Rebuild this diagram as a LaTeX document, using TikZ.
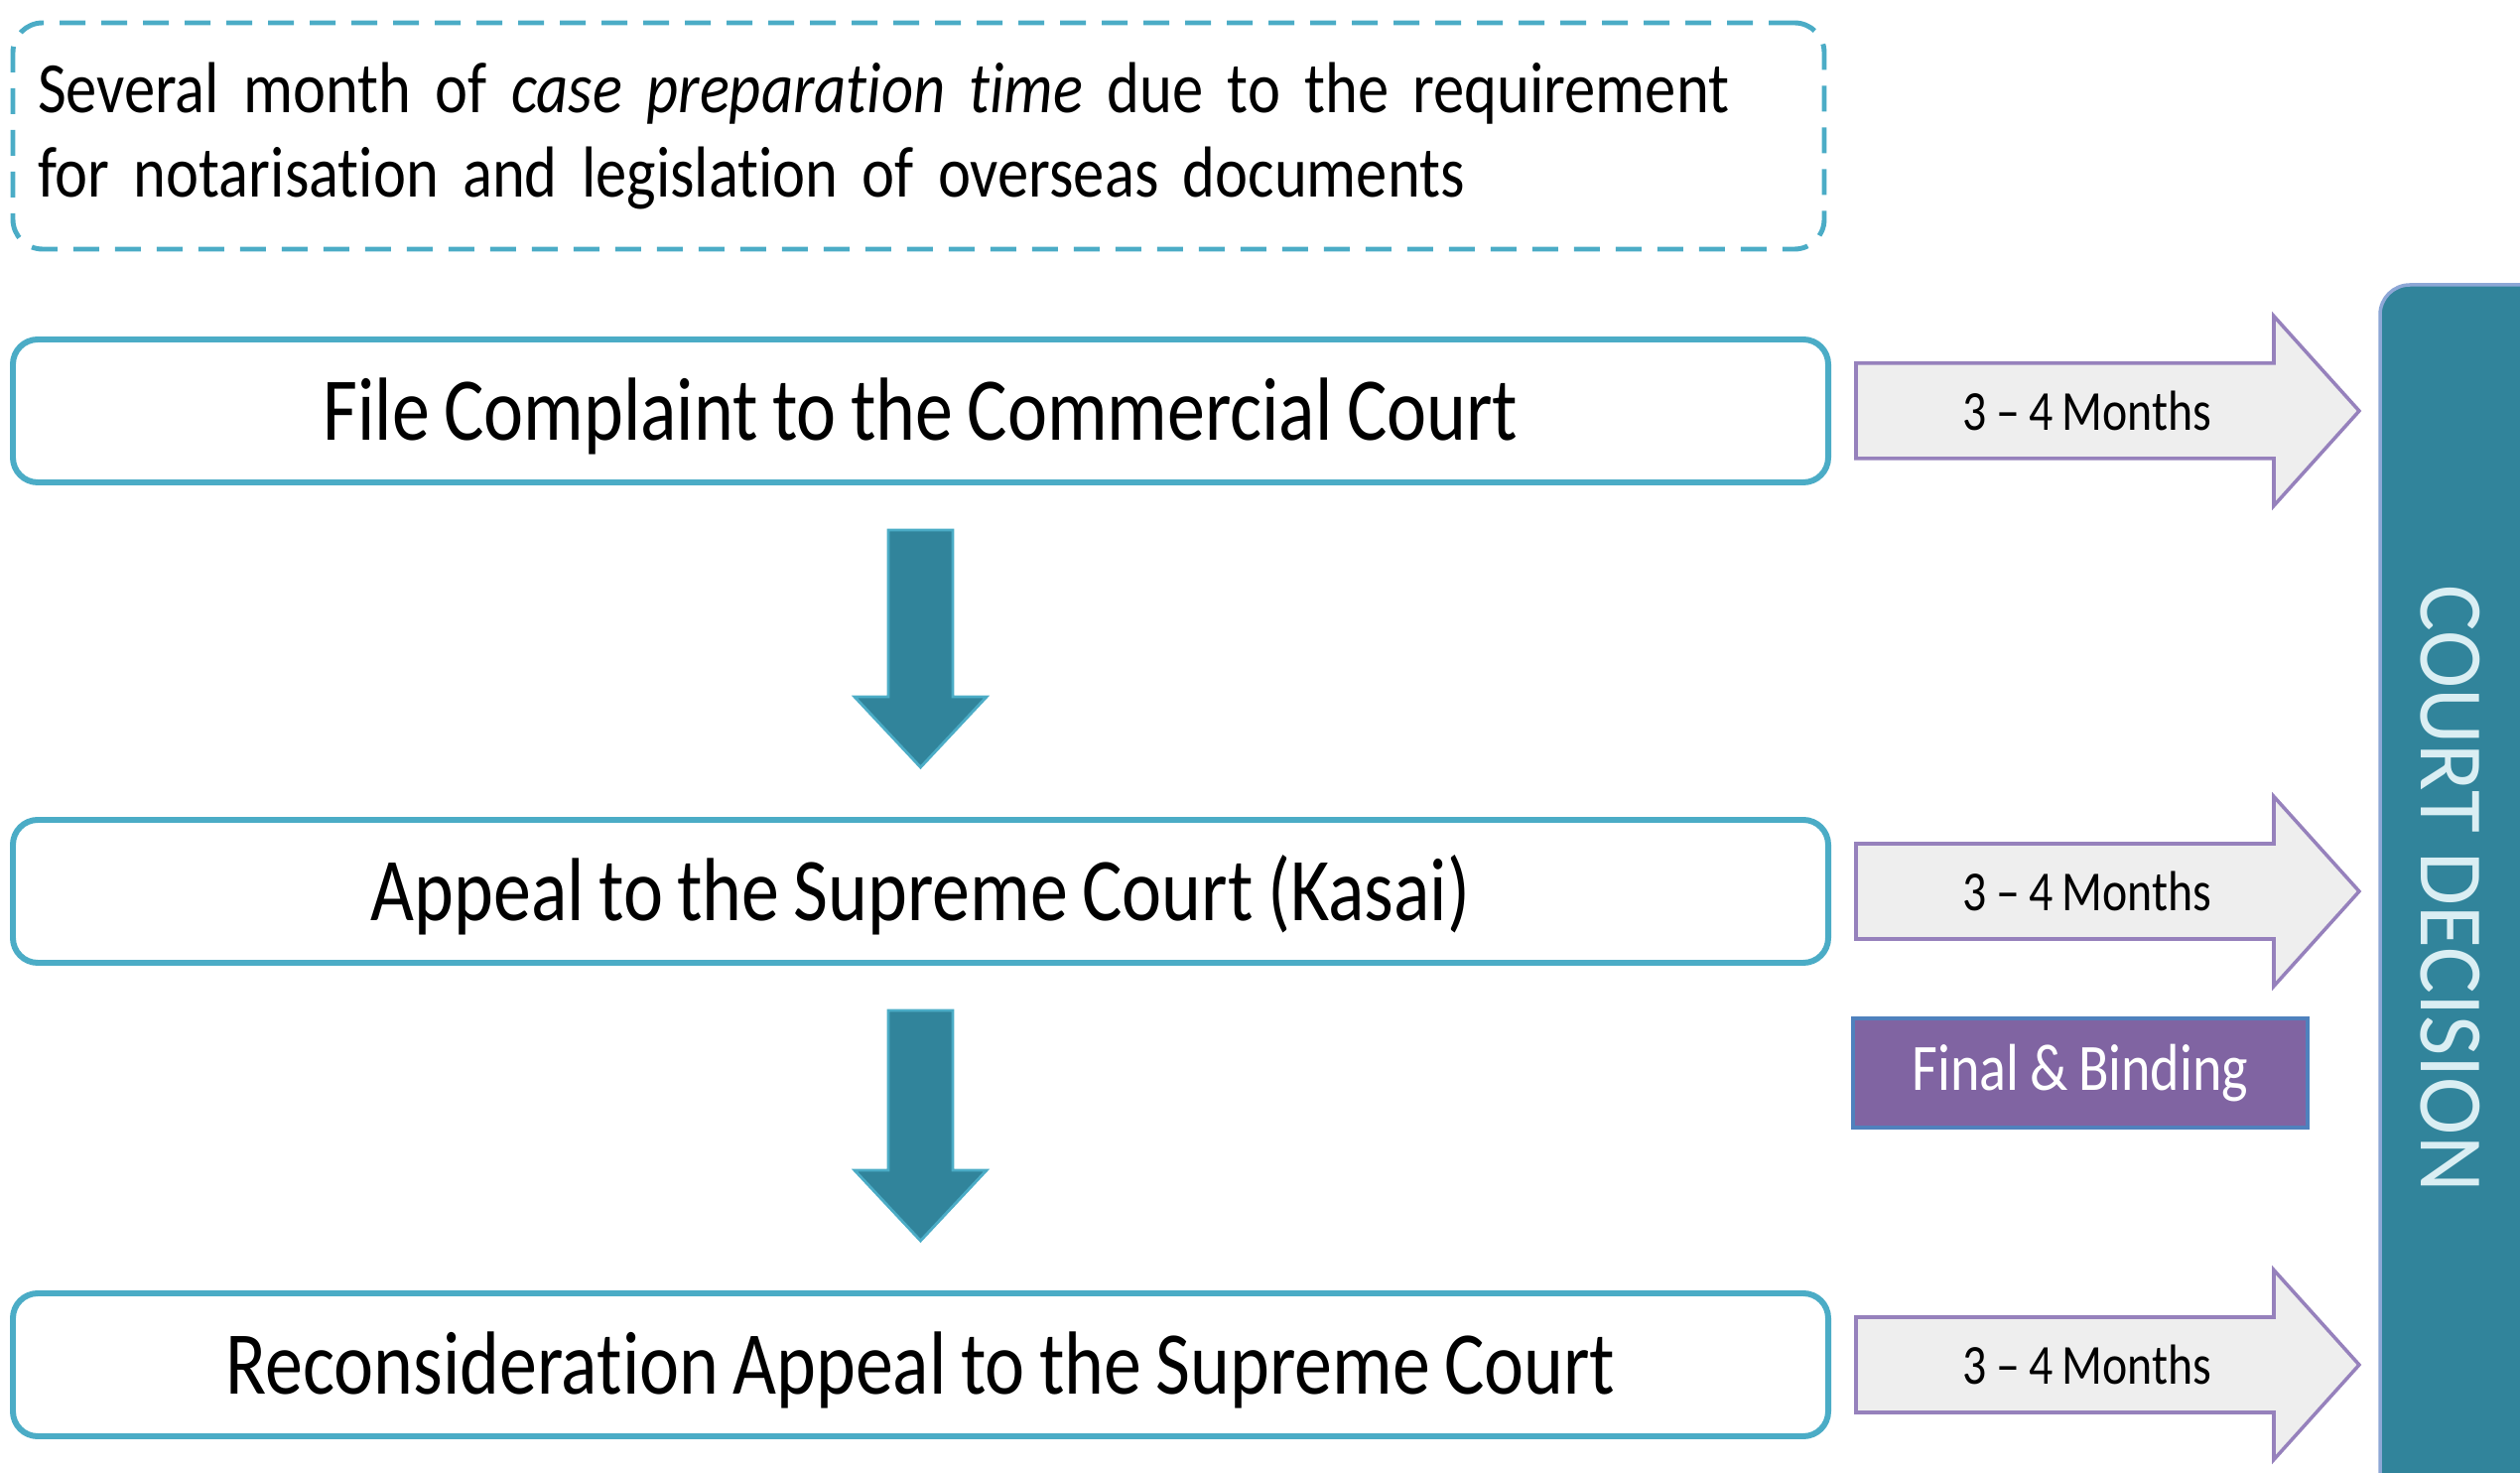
\documentclass[tikz,border=0pt]{standalone}
\usepackage{fontspec}
\setmainfont{Carlito}[FakeStretch=0.84, WordSpace=0.84, Ligatures={TeX,NoCommon}]
\newfontfamily\notefont{Carlito}[FakeStretch=0.86, WordSpace=0.8, Ligatures=NoCommon]
\newfontfamily\courtfont{Carlito}[FakeStretch=0.96]
\usetikzlibrary{arrows,positioning,calc}

\definecolor{aqua}{HTML}{4BACC6}
\definecolor{courtteal}{HTML}{31849B}
\definecolor{lilac}{HTML}{9681BC}
\definecolor{plum}{HTML}{8064A2}
\definecolor{steel}{HTML}{4F81BD}
\definecolor{barblue}{HTML}{8DA7D6}
\definecolor{paleblue}{HTML}{DAEEF3}
\definecolor{greyfill}{HTML}{EEEEEE}

\tikzset{
  stage/.style={draw=aqua, line width=1.7pt, rounded corners=0.25cm, minimum width=18.29cm, minimum height=1.44cm, text height=18pt, text depth=1.3pt, font=\fontsize{25.7}{30}\selectfont},
  prepnote/.style={draw=aqua, line width=1.4pt, dash pattern=on 0.26cm off 0.16cm, rounded corners=0.3cm, text width=17.75cm, inner xsep=0.25cm, minimum height=2.28cm, align=left, font=\notefont\fontsize{20.7}{24.2}\selectfont},
  downarr/.style={fill=courtteal, draw=aqua, line width=0.8pt},
  timearr/.style={fill=greyfill, draw=lilac, line width=1pt},
  months/.style={font=\fontsize{16.2}{19}\selectfont},
  finalbox/.style={fill=plum, draw=steel, line width=1pt, minimum width=4.58cm, minimum height=1.10cm, text=white, font=\fontsize{19}{22}\selectfont}
}

\begin{document}
\begin{tikzpicture}
		\useasboundingbox (0,0) rectangle (25.39,14.83);
		% court decision bar
		\draw[fill=courtteal, draw=barblue, line width=1pt, rounded corners=0.3cm] (23.98,-0.5) rectangle (27,11.96);
		\node[rotate=-90, text=paleblue, font=\courtfont\fontsize{26}{30}\selectfont] (court) at (24.69,5.88) {COURT DECISION};

		\node[prepnote] (prep) at (9.255,13.46) {Several month of \textit{case preparation time} due to the requirement\\for notarisation and legislation of overseas documents};

		\node[stage] (file) at (9.275,10.69) {File Complaint to the Commercial Court};
		\node[stage] (kasai) at (9.275,5.85) {Appeal to the Supreme Court (Kasai)};
		\node[stage] (recon) at (9.275,1.08) {Reconsideration Appeal to the Supreme Court};

		% big arrows between the stages
		\foreach \a/\b in {file/kasai, kasai/recon} {
			\coordinate (\a-out) at ([yshift=-0.45cm]\a.south);
			\coordinate (\b-in) at ([yshift=0.5cm]\b.north);
			\draw[downarr] ($(\a-out)+(-0.325,0)$) -- ($(\b-in)+(-0.325,0.71)$) -- ++(-0.34,0) -- (\b-in) -- ($(\b-in)+(0.665,0.71)$) -- ++(-0.34,0) -- ($(\a-out)+(0.325,0)$) -- cycle;
		}

		% time arrows
		\foreach \b/\m in {file/m1, kasai/m2, recon/m3} {
			\draw[timearr] ($(\b.east)+(0.25,0.48)$) -- ++(4.21,0) -- ++(0,0.475) -- ++(0.86,-0.955) -- ++(-0.86,-0.955) -- ++(0,0.475) -- ++(-4.21,0) -- cycle;
			\node[months] (\m) at ($(\b.east)+(2.58,0)$) {3 -- 4 Months};
		}

		\node[finalbox] (final) at (20.96,4.02) {Final \& Binding};
\end{tikzpicture}
\end{document}
